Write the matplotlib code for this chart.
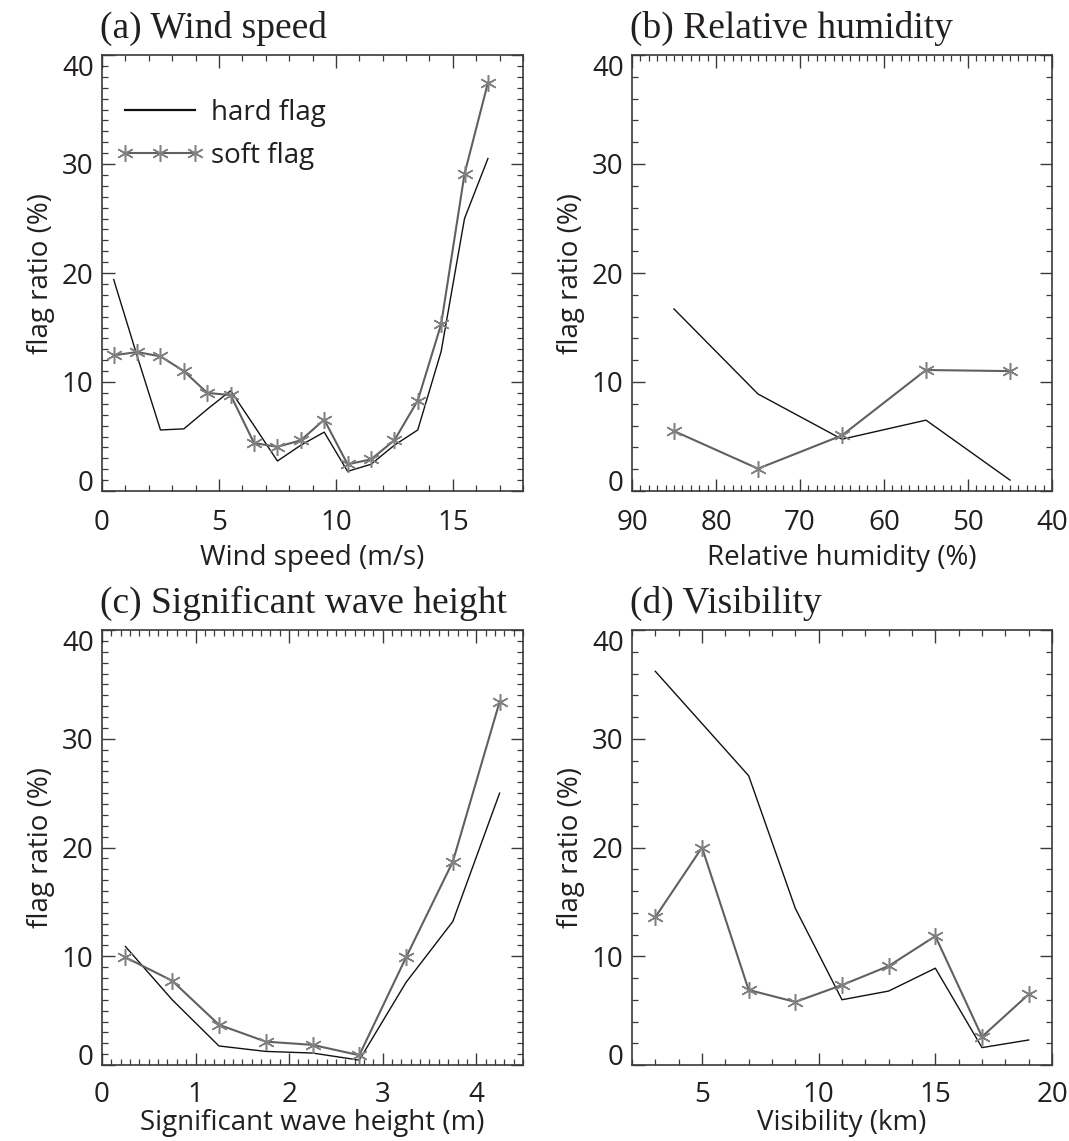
import matplotlib
matplotlib.use("Agg")
import matplotlib.pyplot as plt
from matplotlib.ticker import MultipleLocator, FixedLocator

plt.rcParams['font.family'] = ['Open Sans', 'DejaVu Sans']

# ---------------- data ----------------
wind_x = [0.5, 1.5, 2.5, 3.5, 4.5, 5.5, 6.5, 7.5, 8.5, 9.5, 10.5, 11.5, 12.5, 13.5, 14.5, 15.5, 16.5]
wind_hard = [19.4, 12.4, 5.6, 5.7, 7.5, 9.2, 6.0, 2.75, 4.2, 5.4, 1.8, 2.45, 4.2, 5.6, 12.8, 25.0, 30.5]
wind_soft = [12.45, 12.75, 12.35, 11.0, 9.0, 8.8, 4.4, 4.05, 4.65, 6.55, 2.45, 2.9, 4.65, 8.3, 15.3, 29.1, 37.45]

rh_x = [85, 75, 65, 55, 45]
rh_hard = [16.7, 8.9, 4.75, 6.5, 1.0]
rh_soft = [5.5, 2.05, 5.1, 11.1, 11.0]

swh_x = [0.25, 0.75, 1.25, 1.75, 2.25, 2.75, 3.25, 3.75, 4.25]
swh_hard = [10.9, 6.0, 1.75, 1.25, 1.1, 0.45, 7.6, 13.2, 25.0]
swh_soft = [9.9, 7.75, 3.7, 2.15, 1.85, 0.9, 9.9, 18.7, 33.4]

vis_x = [3, 5, 7, 9, 11, 13, 15, 17, 19]
vis_hard = [36.2, 31.4, 26.6, 14.4, 6.0, 6.8, 8.9, 1.6, 2.3]
vis_soft = [13.6, 20.0, 6.9, 5.8, 7.35, 9.1, 11.85, 2.6, 6.5]

titles = ["(a) Wind speed", "(b) Relative humidity",
          "(c) Significant wave height", "(d) Visibility"]
xlabels = ["Wind speed (m/s)", "Relative humidity (%)",
           "Significant wave height (m)", "Visibility (km)"]
ylabel = "flag ratio (%)"
legend_labels = ["hard flag", "soft flag"]

# ---------------- figure ----------------
W, H = 1069, 1141
fig = plt.figure(figsize=(W / 100, H / 100), dpi=100)

def box(l, r, t, b):
    return [l / W, 1 - b / H, (r - l) / W, (b - t) / H]

axes = [
    fig.add_axes(box(102, 523, 55, 491)),
    fig.add_axes(box(632, 1052, 55, 491)),
    fig.add_axes(box(102, 523, 630, 1065)),
    fig.add_axes(box(632, 1052, 630, 1065)),
]

data = [(wind_x, wind_hard, wind_soft), (rh_x, rh_hard, rh_soft),
        (swh_x, swh_hard, swh_soft), (vis_x, vis_hard, vis_soft)]
xlims = [(0, 18), (90, 40), (0, 4.5), (2, 20)]
xmajor = [[0, 5, 10, 15], [90, 80, 70, 60, 50, 40], [0, 1, 2, 3, 4], [5, 10, 15, 20]]
xminor = [1, 1, 0.1, 1]
yminor = [1, 2, 1, 2]
xlabpad = [5, 5, 0, 0]
xtickpad = [13, 13, 11.5, 11.5]

txtcol = '#231f20'
spcol = '#3a3a3a'
hardcol = '#111111'
softcol = '#606060'
mkcol = '#808080'
asterisk = (6, 2, 0)
fs = 20

for i, ax in enumerate(axes):
    x, hard, soft = data[i]
    lh, = ax.plot(x, hard, color=hardcol, lw=1.0)
    ls, = ax.plot(x, soft, color=softcol, lw=1.5, marker=asterisk,
                  markersize=12, markeredgecolor=mkcol, markeredgewidth=1.1)
    ax.set_xlim(*xlims[i])
    ax.set_ylim(0, 40)
    ax.xaxis.set_major_locator(FixedLocator(xmajor[i]))
    ax.xaxis.set_minor_locator(MultipleLocator(xminor[i]))
    ax.yaxis.set_minor_locator(MultipleLocator(yminor[i]))
    ax.tick_params(which='both', direction='in', top=True, right=True,
                   colors=spcol, labelcolor=txtcol, labelsize=fs)
    ax.tick_params(which='major', length=9, width=1.0)
    ax.tick_params(which='minor', length=4.5, width=0.9)
    ax.tick_params(axis='x', which='major', pad=xtickpad[i])
    ax.tick_params(axis='y', which='major', pad=6)
    for s in ax.spines.values():
        s.set_color(spcol)
        s.set_linewidth(1.2)
    ax.set_xlabel(xlabels[i], fontsize=fs, color=txtcol, labelpad=xlabpad[i])
    ax.set_ylabel(ylabel, fontsize=fs, color=txtcol, labelpad=5)
    ax.set_yticks([0, 10, 20, 30, 40])
    ax.set_yticklabels(['0', '10', '20', '30', '40'])
    yl = ax.get_yticklabels()
    yl[0].set_va('baseline')
    yl[-1].set_va('top')
    ax.annotate(titles[i], xy=(0, 1), xycoords='axes fraction',
                xytext=(-2, 17), textcoords='offset pixels',
                ha='left', va='baseline', fontsize=27,
                family='Liberation Serif', color=txtcol)
    if i == 0:
        leg = ax.legend([lh, ls], legend_labels, loc='upper left',
                        bbox_to_anchor=(0.035, 0.90), frameon=False,
                        fontsize=fs, handlelength=3.1, handletextpad=0.3,
                        labelspacing=0.55, numpoints=3, borderpad=0,
                        borderaxespad=0, labelcolor=txtcol)
        leg.get_lines()[0].set_linewidth(1.6)

fig.savefig("out.png", dpi=100)
